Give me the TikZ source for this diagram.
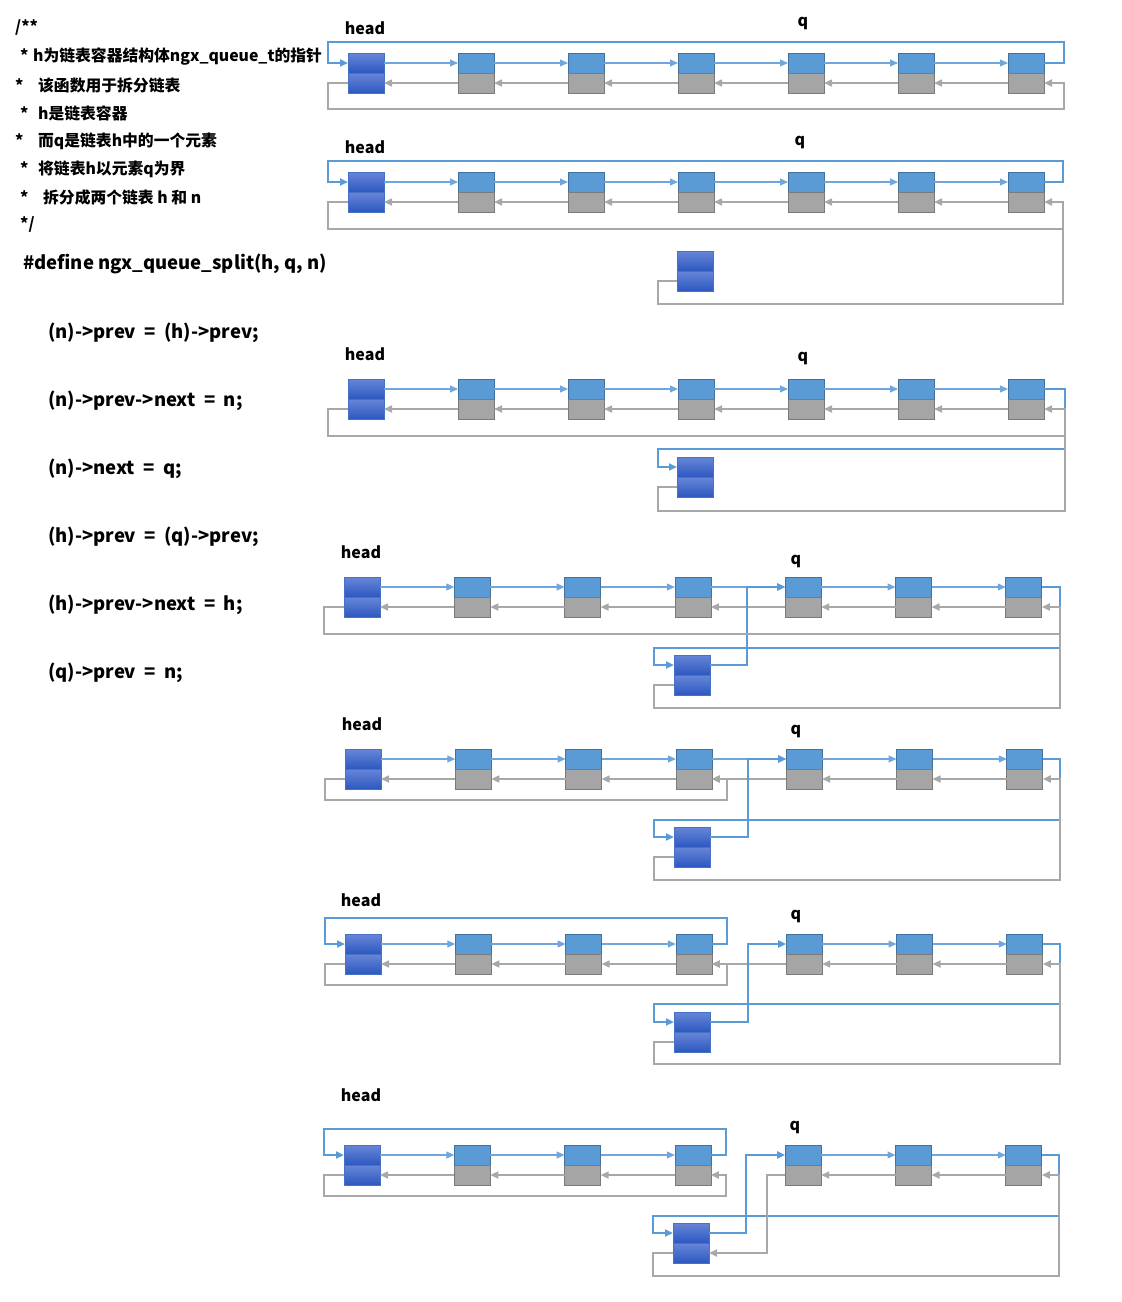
\documentclass[tikz,border=0pt]{standalone}
\usepackage{fontspec}
\usepackage{tikz}
\usetikzlibrary{arrows.meta,calc}
\newfontfamily\cjk{Noto Sans CJK SC}
\newcommand{\codespace}{\spaceskip=8.5pt plus 1pt\relax}
\definecolor{nextfill}{RGB}{91,155,213}
\definecolor{nextborder}{RGB}{65,113,156}
\definecolor{nextline}{RGB}{112,166,220}
\definecolor{prevfill}{RGB}{165,165,165}
\definecolor{prevborder}{RGB}{122,122,122}
\definecolor{wiregray}{RGB}{168,168,168}
\definecolor{headtop}{RGB}{104,134,216}
\definecolor{headbot}{RGB}{44,88,192}
\definecolor{headborder}{RGB}{70,114,196}

% one list element: blue next half on top, grey prev half below
\newcommand{\qelem}[3]{%
  \node[nextbox,anchor=north west] (#1-t) at (#2,#3) {};
  \node[prevbox,anchor=north] (#1-b) at (#1-t.south) {};}
% the head / n container, two shaded halves
\newcommand{\qhead}[3]{%
  \node[headbox,anchor=north west] (#1-t) at (#2,#3) {};
  \node[headbox,anchor=north] (#1-b) at (#1-t.south) {};}
% next / prev links along a chain, the 3-4 gap is drawn by hand
\newcommand{\qlinks}[1]{%
  \foreach \i/\j in {0/1,1/2,2/3,4/5,5/6}{
    \draw[nextarr] (#1\i-t.east) -- (#1\j-t.west);
    \draw[prevarr] (#1\j-b.west) -- (#1\i-b.east);}}

\begin{document}
\begin{tikzpicture}[x=1pt,y=-1pt,>={Triangle[length=8pt,width=7pt]},
    every node/.style={font=\cjk\bfseries},
    cmt/.style={anchor=west,inner sep=0pt,font=\cjk\bfseries\fontsize{15.8}{18}\selectfont},
    code/.style={anchor=west,inner sep=0pt,font=\cjk\bfseries\fontsize{18.5}{20}\selectfont},
    stmt/.style={code,execute at begin node=\codespace},
    lbl/.style={inner sep=0pt,font=\cjk\bfseries\fontsize{16}{18}\selectfont},
    nextbox/.style={draw=nextborder,fill=nextfill,line width=0.8pt,
                    minimum width=36pt,minimum height=20pt,inner sep=0pt,outer sep=0pt},
    prevbox/.style={nextbox,draw=prevborder,fill=prevfill},
    headbox/.style={nextbox,draw=headborder,top color=headtop,bottom color=headbot},
    nextarr/.style={draw=nextline,line width=1.1pt,->},
    prevarr/.style={draw=wiregray,line width=1.6pt,->},
    bluewire/.style={draw=nextfill,line width=2pt},
    graywire/.style={draw=wiregray,line width=2pt}]

  \useasboundingbox (0,0) rectangle (1122,1302);

  % comment block and macro
  \node[cmt] (c1) at (15,28) {/**};
  \node[cmt] (c2) at (20,57) {\makebox[13pt][l]{*}h为链表容器结构体ngx\_queue\_t的指针};
  \node[cmt] (c3) at (15,85) {\makebox[23pt][l]{*}该函数用于拆分链表};
  \node[cmt] (c4) at (20,113) {\makebox[18pt][l]{*}h是链表容器};
  \node[cmt] (c5) at (15,141) {\makebox[23pt][l]{*}而q是链表h中的一个元素};
  \node[cmt] (c6) at (20,169) {\makebox[18pt][l]{*}将链表h以元素q为界};
  \node[cmt] (c7) at (20,197) {\makebox[23pt][l]{*}拆分成两个链表 h 和 n};
  \node[cmt] (c8) at (20,225) {*/};
  \node[code] (def) at (23,264) {\#define ngx\_queue\_split(h, q, n)};
  \node[stmt] (s1) at (48,333) {(n)->prev = (h)->prev;};
  \node[stmt] (s2) at (48,401) {(n)->prev->next = n;};
  \node[stmt] (s3) at (48,469) {(n)->next = q;};
  \node[stmt] (s4) at (48,537) {(h)->prev = (q)->prev;};
  \node[stmt] (s5) at (48,605) {(h)->prev->next = h;};
  \node[stmt] (s6) at (48,673) {(q)->prev = n;};

  % panel 1: the whole list
  \node[lbl] (ah) at (365,28) {head};
  \node[lbl] (aq) at (803,23) {q};
  \qhead{a0}{348}{53}
  \foreach \i in {1,...,6} {\qelem{a\i}{348+110*\i}{53}}
  \qlinks{a}
  \draw[nextarr] (a3-t.east) -- (a4-t.west);
  \draw[prevarr] (a4-b.west) -- (a3-b.east);
  \draw[bluewire,->] (a6-t.east) -| (1064,42) -| (328,63) -- (a0-t.west);
  \draw[graywire,->] (a0-b.west) -| (328,109) -| (1064,83) -- (a6-b.east);

  % panel 2: n->prev = h->prev
  \node[lbl] (bh) at (365,147) {head};
  \node[lbl] (bq) at (800,142) {q};
  \qhead{b0}{348}{172}
  \foreach \i in {1,...,6} {\qelem{b\i}{348+110*\i}{172}}
  \qhead{bn}{677}{251}
  \qlinks{b}
  \draw[nextarr] (b3-t.east) -- (b4-t.west);
  \draw[prevarr] (b4-b.west) -- (b3-b.east);
  \draw[bluewire,->] (b6-t.east) -| (1063,161) -| (328,182) -- (b0-t.west);
  \draw[graywire,->] (b0-b.west) -| (328,229) -| (1063,202) -- (b6-b.east);
  \coordinate (bj) at (1063,229);
  \draw[graywire] (bn-b.west) -| (658,304) -| (bj);

  % panel 3: n->prev->next = n
  \node[lbl] (ch) at (365,354) {head};
  \node[lbl] (cq) at (803,358) {q};
  \qhead{c0}{348}{379}
  \foreach \i in {1,...,6} {\qelem{c\i}{348+110*\i}{379}}
  \qhead{cn}{677}{457}
  \qlinks{c}
  \draw[nextarr] (c3-t.east) -- (c4-t.west);
  \draw[prevarr] (c4-b.west) -- (c3-b.east);
  \draw[bluewire,->] (c6-t.east) -| (1065,449) -| (658,467) -- (cn-t.west);
  \draw[graywire,->] (c0-b.west) -| (328,436) -| (1065,409) -- (c6-b.east);
  \coordinate (cj) at (1065,436);
  \draw[graywire] (cn-b.west) -| (658,511) -| (cj);

  % panel 4: n->next = q
  \node[lbl] (dh) at (361,552) {head};
  \node[lbl] (dq) at (796,561) {q};
  \qhead{d0}{344}{577}
  \foreach \i in {1,...,6} {\qelem{d\i}{344+110.3*\i}{577}}
  \qhead{dn}{674}{655}
  \qlinks{d}
  \draw[nextarr] (d3-t.east) -- (d4-t.west);
  \draw[prevarr] (d4-b.west) -- (d3-b.east);
  \draw[bluewire,->] (dn-t.east) -| (747,587) -- (d4-t.west);
  \draw[bluewire,->] (d6-t.east) -| (1060,648) -| (654,665) -- (dn-t.west);
  \draw[graywire,->] (d0-b.west) -| (324,634) -| (1060,607) -- (d6-b.east);
  \coordinate (dj) at (1060,634);
  \draw[graywire] (dn-b.west) -| (654,708) -| (dj);

  % panel 5: h->prev = q->prev
  \node[lbl] (eh) at (362,724) {head};
  \node[lbl] (eq) at (796,731) {q};
  \qhead{e0}{345}{749}
  \foreach \i in {1,...,6} {\qelem{e\i}{345+110.3*\i}{749}}
  \qhead{en}{674}{827}
  \qlinks{e}
  \draw[nextarr] (e3-t.east) -- (e4-t.west);
  \draw[prevarr] (e4-b.west) -- (e3-b.east);
  \draw[bluewire,->] (en-t.east) -| (748,759) -- (e4-t.west);
  \draw[bluewire,->] (e6-t.east) -| (1060,820) -| (654,837) -- (en-t.west);
  \draw[graywire,->] (e0-b.west) -| (325,800) -| (727,779) -- (e3-b.east);
  \draw[graywire,->] (en-b.west) -| (654,880) -| (1060,779) -- (e6-b.east);

  % panel 6: h->prev->next = h
  \node[lbl] (fh) at (361,900) {head};
  \node[lbl] (fq) at (796,916) {q};
  \qhead{f0}{345}{934}
  \foreach \i in {1,...,6} {\qelem{f\i}{345+110.3*\i}{934}}
  \qhead{fn}{674}{1012}
  \qlinks{f}
  \draw[prevarr] (f4-b.west) -- (f3-b.east);
  \draw[bluewire,->] (f3-t.east) -| (727,918) -| (325,944) -- (f0-t.west);
  \draw[bluewire,->] (fn-t.east) -| (748,944) -- (f4-t.west);
  \draw[bluewire,->] (f6-t.east) -| (1060,1004) -| (654,1022) -- (fn-t.west);
  \draw[graywire,->] (f0-b.west) -| (325,985) -| (727,964) -- (f3-b.east);
  \draw[graywire,->] (fn-b.west) -| (654,1064) -| (1060,964) -- (f6-b.east);

  % panel 7: q->prev = n
  \node[lbl] (gh) at (361,1095) {head};
  \node[lbl] (gq) at (795,1127) {q};
  \qhead{g0}{344}{1145}
  \foreach \i in {1,...,6} {\qelem{g\i}{344+110.3*\i}{1145}}
  \qhead{gn}{673}{1223}
  \qlinks{g}
  \draw[bluewire,->] (g3-t.east) -| (726,1129) -| (324,1155) -- (g0-t.west);
  \draw[bluewire,->] (gn-t.east) -| (746,1155) -- (g4-t.west);
  \draw[bluewire,->] (g6-t.east) -| (1059,1216) -| (653,1233) -- (gn-t.west);
  \draw[graywire,->] (g0-b.west) -| (324,1196) -| (726,1175) -- (g3-b.east);
  \draw[graywire,->] (g4-b.west) -| (767,1253) -- (gn-b.east);
  \draw[graywire,->] (gn-b.west) -| (653,1276) -| (1059,1175) -- (g6-b.east);

\end{tikzpicture}
\end{document}
